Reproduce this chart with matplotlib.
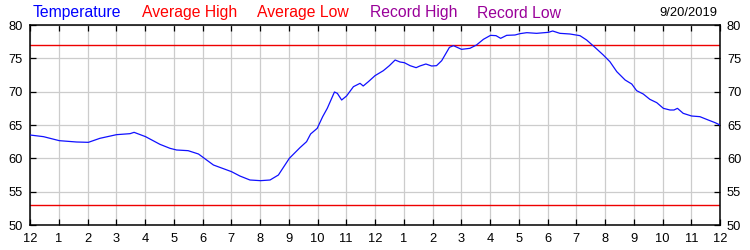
import matplotlib
matplotlib.use("Agg")
import matplotlib.pyplot as plt

# hours since midnight and temperature (F)
hours = [
    0.0, 0.47, 1.02, 1.62, 2.03, 2.43, 3.01, 3.48, 3.62, 4.02, 4.52, 4.87,
    5.1, 5.5, 5.86, 6.38, 7.01, 7.3, 7.65, 8.02, 8.35, 8.64, 9.02, 9.39,
    9.62, 9.76, 9.99, 10.18, 10.34, 10.59, 10.69, 10.84, 11.01, 11.25,
    11.48, 11.59, 11.77, 12.0, 12.29, 12.5, 12.7, 12.87, 13.02, 13.22,
    13.43, 13.56, 13.77, 13.97, 14.14, 14.32, 14.59, 14.73, 15.01, 15.3,
    15.53, 15.77, 16.02, 16.21, 16.37, 16.58, 16.87, 17.04, 17.28, 17.62,
    18.03, 18.18, 18.43, 18.78, 19.13, 19.36, 19.65, 19.94, 20.17, 20.41,
    20.7, 20.93, 21.1, 21.33, 21.56, 21.8, 22.03, 22.26, 22.4, 22.52,
    22.72, 23.01, 23.3, 23.59, 23.83, 24.0,
]
temps = [
    63.5, 63.25, 62.65, 62.45, 62.4, 63.0, 63.55, 63.7, 63.9, 63.25, 62.1,
    61.5, 61.25, 61.15, 60.65, 59.0, 58.0, 57.35, 56.75, 56.65, 56.75,
    57.5, 60.0, 61.6, 62.5, 63.65, 64.5, 66.25, 67.5, 69.95, 69.75, 68.75,
    69.35, 70.75, 71.25, 70.85, 71.5, 72.4, 73.15, 73.9, 74.75, 74.45,
    74.35, 73.9, 73.6, 73.85, 74.15, 73.85, 73.9, 74.65, 76.65, 76.9,
    76.35, 76.5, 77.0, 77.85, 78.45, 78.4, 78.0, 78.45, 78.5, 78.7, 78.85,
    78.75, 78.9, 79.1, 78.75, 78.65, 78.4, 77.75, 76.65, 75.5, 74.5, 73.0,
    71.75, 71.15, 70.15, 69.65, 68.85, 68.35, 67.5, 67.25, 67.25, 67.5,
    66.75, 66.35, 66.25, 65.75, 65.35, 65.0,
]
avg_high = 77
avg_low = 53
date_label = "9/20/2019"

tick_hours = list(range(0, 25))
tick_labels = ["12"] + [str(h) for h in range(1, 12)] + ["12"] + [str(h) for h in range(1, 12)] + ["12"]
y_ticks = [50, 55, 60, 65, 70, 75, 80]

legend_items = [
    ("Temperature", "#0000ff", 0.044),
    ("Average High", "#ff0000", 0.189),
    ("Average Low", "#ff0000", 0.343),
    ("Record High", "#990099", 0.493),
    ("Record Low", "#990099", 0.636),
]

plt.rcParams["font.family"] = ["Liberation Sans", "DejaVu Sans"]

fig = plt.figure(figsize=(7.5, 2.5), dpi=100)
ax = fig.add_axes([0.04, 0.1, 0.92, 0.8])

ax.plot(hours, temps, color="#1010ff", linewidth=0.9, zorder=3)
ax.axhline(avg_high, color="#ee0000", linewidth=1.0, zorder=2)
ax.axhline(avg_low, color="#ee0000", linewidth=1.0, zorder=2)

ax.set_xlim(0, 24)
ax.set_ylim(50, 80)
ax.set_xticks(tick_hours)
ax.set_xticklabels(tick_labels)
ax.set_yticks(y_ticks)
ax.grid(True, color="#cccccc", linewidth=0.9, zorder=0)
ax.set_axisbelow(True)
ax.tick_params(axis="both", direction="in", length=4.5, width=0.9,
               labelsize=9.3, top=True, right=True, labelright=True,
               colors="black")
ax.tick_params(axis="x", pad=6)
ax.tick_params(axis="y", pad=5)
for sp in ax.spines.values():
    sp.set_linewidth(1.1)
    sp.set_color("black")

for text, color, x in legend_items:
    fig.text(x, 0.948, text, color=color, fontsize=11.3, va="center", ha="left")
fig.text(0.957, 0.948, date_label, color="black", fontsize=9.3, va="center", ha="right")

fig.savefig("out.png", dpi=100)
